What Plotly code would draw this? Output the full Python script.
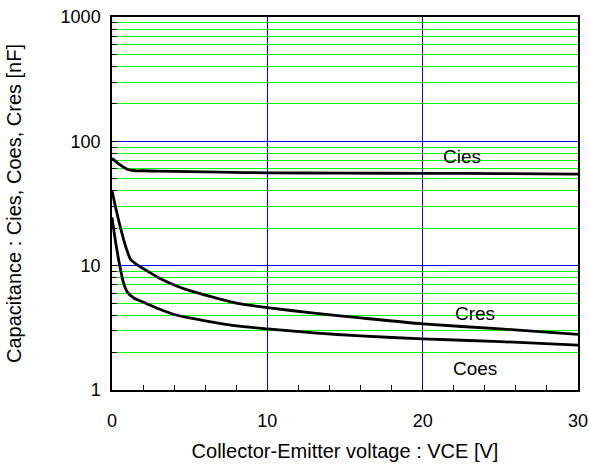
import math
import plotly.graph_objects as go

# Data
vce_cies = [0, 0.5, 1.0, 1.5, 2, 3, 5, 7, 10, 15, 20, 25, 30]
cies = [73, 65, 59.5, 58, 58, 57.5, 57, 56.5, 55.8, 55.5, 55.3, 55, 54.5]

vce_cres = [0, 0.3, 0.6, 0.9, 1.2, 1.6, 2, 3, 4, 5, 6, 8, 10, 13, 16, 20, 25, 30]
cres = [40, 27, 19, 14, 11.2, 10.2, 9.5, 8.0, 7.0, 6.3, 5.8, 5.0, 4.6, 4.15, 3.8, 3.4, 3.1, 2.8]

vce_coes = [0, 0.25, 0.5, 0.75, 1.0, 1.4, 2, 3, 4, 5, 6, 8, 10, 13, 16, 20, 25, 30]
coes = [24.4, 15, 10, 7.2, 6.1, 5.5, 5.1, 4.5, 4.05, 3.8, 3.6, 3.28, 3.1, 2.88, 2.72, 2.58, 2.45, 2.3]

x_ticks = [0, 10, 20, 30]
x_minor_ticks = [2, 4, 6, 8, 12, 14, 16, 18, 22, 24, 26, 28]
y_ticks = [1, 10, 100, 1000]
y_tick_labels = ["1", "10", "100", "1000"]
y_minor_ticks = [m * d for d in (1, 10, 100) for m in range(2, 10)]

labels = ["Cies", "Cres", "Coes"]
label_x = [22.5, 23.4, 23.4]
label_y = [75, 4.16, 1.5]

FONT = "Arial, Liberation Sans, sans-serif"

W, H = 589, 466
PL, PR, PT, PB = 112, 578, 17, 390  # plot box in page pixels

fig = go.Figure()
for xs, ys in ((vce_cies, cies), (vce_cres, cres), (vce_coes, coes)):
    fig.add_trace(go.Scatter(x=xs, y=ys, mode="lines",
                             line=dict(color="black", width=2.8, shape="spline", smoothing=0.6),
                             showlegend=False, hoverinfo="skip"))

for t, lx, ly in zip(labels, label_x, label_y):
    fig.add_annotation(x=lx, y=math.log10(ly), xref="x", yref="y", text=t, showarrow=False,
                       font=dict(size=19, color="black", family=FONT))

fig.update_layout(
    width=W, height=H,
    margin=dict(l=PL, r=W - PR, t=PT, b=H - PB, pad=0),
    paper_bgcolor="white", plot_bgcolor="white",
    font=dict(family=FONT, size=18, color="black"),
)
fig.update_xaxes(
    range=[0, 30], tickvals=x_ticks, ticks="inside", ticklen=6, tickcolor="black",
    showgrid=True, gridcolor="#0000ff", gridwidth=1, automargin=False,
    showline=True, linecolor="black", linewidth=1.5, mirror=True, zeroline=False,
    minor=dict(tickvals=x_minor_ticks, ticks="inside", ticklen=5, tickcolor="black", showgrid=False),
    title=dict(text="Collector-Emitter voltage : VCE [V]", font=dict(size=20), standoff=14),
    tickfont=dict(size=18), ticklabelstandoff=14, ticklabeloverflow="allow",
)
fig.update_yaxes(
    type="log", range=[0, 3], tickvals=y_ticks, ticktext=y_tick_labels,
    ticks="inside", ticklen=6, tickcolor="black",
    showgrid=True, gridcolor="#0000ff", gridwidth=1, automargin=False,
    showline=True, linecolor="black", linewidth=1.5, mirror=True, zeroline=False,
    minor=dict(tickvals=y_minor_ticks, ticks="inside", ticklen=5, tickcolor="black",
               showgrid=True, gridcolor="#00ff00", gridwidth=1),
    title=dict(text="Capacitance : Cies, Coes, Cres [nF]", font=dict(size=20), standoff=34),
    tickfont=dict(size=18), ticklabelstandoff=6, ticklabeloverflow="allow",
)

fig.write_html(
    "out.html",
    config={"displayModeBar": False},
    post_script="document.body.style.margin='0';document.body.style.overflow='hidden';",
)
